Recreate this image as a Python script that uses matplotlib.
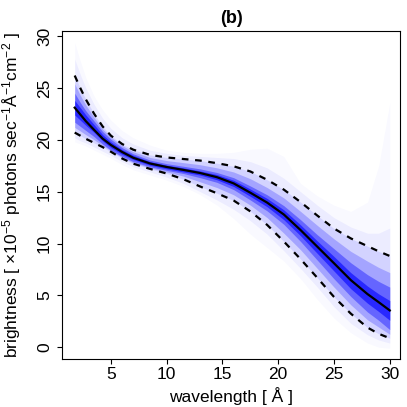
import numpy as np
import matplotlib
matplotlib.use('Agg')
import matplotlib.pyplot as plt

# wavelength grid the curves were read on
wavelength = [1.75, 2.25, 2.75, 3.5, 4.25, 5, 6, 7, 8.5, 10, 11.5, 13,
              14.5, 16, 17.5, 19, 20.5, 22, 23.5, 25, 26.5, 28, 29, 30]

# posterior median and 95% limits (dashed)
median = [23.1, 22.45, 21.8, 20.95, 20.12, 19.5, 18.83, 18.27, 17.72, 17.38,
          17.1, 16.8, 16.4, 15.8, 14.9, 13.95, 12.8, 11.3, 9.7, 8.1,
          6.48, 5.13, 4.35, 3.55]
upper95 = [26.2, 25.0, 23.9, 22.5, 21.3, 20.4, 19.6, 19.05, 18.55, 18.3,
           18.15, 18.0, 17.75, 17.45, 16.95, 16.15, 15.2, 14.0, 12.7, 11.45,
           10.5, 9.75, 9.25, 8.8]
lower95 = [20.7, 20.4, 20.1, 19.7, 19.3, 18.85, 18.2, 17.7, 17.2, 16.75,
           16.2, 15.5, 14.85, 14.15, 13.1, 11.8, 10.2, 8.5, 6.7, 4.85,
           3.25, 1.9, 1.3, 0.87]

# shaded quantile bands, widest first
band_faint_hi = [29.4, 27.6, 26.0, 24.2, 22.9, 21.9, 20.9, 20.2, 19.5, 19.0,
                 18.8, 18.7, 18.7, 18.8, 19.1, 19.2, 18.4, 15.8, 14.6, 13.7,
                 13.1, 14.0, 17.5, 23.6]
band_faint_lo = [19.8, 19.6, 19.4, 19.0, 18.6, 18.2, 17.6, 17.1, 16.6, 16.1,
                 15.5, 14.7, 13.7, 12.4, 10.9, 9.6, 8.3, 6.6, 4.6, 2.8,
                 1.4, 0.4, 0.0, -0.1]
band_outer_hi = [27.8, 26.3, 25.0, 23.4, 22.1, 21.1, 20.2, 19.6, 19.0, 18.7,
                 18.5, 18.4, 18.3, 18.2, 17.9, 17.3, 16.3, 15.0, 13.7, 12.5,
                 11.6, 11.0, 11.0, 11.5]
band_outer_lo = [20.2, 19.9, 19.7, 19.3, 18.9, 18.5, 17.9, 17.4, 16.9, 16.4,
                 15.8, 15.0, 14.2, 13.3, 12.2, 10.9, 9.3, 7.6, 5.8, 3.9,
                 2.3, 1.2, 0.7, 0.4]
band_mid_hi = [25.4, 24.3, 23.35, 22.15, 21.05, 20.25, 19.45, 18.85, 18.3, 18.0,
               17.8, 17.6, 17.3, 16.9, 16.25, 15.4, 14.4, 13.1, 11.75, 10.45,
               9.25, 8.3, 7.7, 7.2]
band_mid_lo = [21.2, 20.85, 20.5, 20.0, 19.45, 18.95, 18.3, 17.8, 17.3, 16.9,
               16.5, 15.95, 15.4, 14.7, 13.7, 12.5, 11.0, 9.4, 7.6, 5.8,
               4.1, 2.65, 1.95, 1.25]
band_inner_hi = [24.5, 23.6, 22.8, 21.8, 20.8, 20.05, 19.25, 18.65, 18.05, 17.7,
                 17.45, 17.2, 16.85, 16.35, 15.55, 14.7, 13.65, 12.3, 10.85, 9.5,
                 8.15, 7.0, 6.35, 5.8]
band_inner_lo = [21.7, 21.3, 20.9, 20.3, 19.6, 19.0, 18.4, 17.9, 17.4, 17.05,
                 16.75, 16.35, 15.9, 15.2, 14.2, 13.15, 11.85, 10.2, 8.4, 6.6,
                 4.9, 3.4, 2.6, 1.7]
band_core_hi = [23.8, 23.1, 22.4, 21.45, 20.5, 19.8, 19.05, 18.5, 17.9, 17.55,
                17.3, 17.0, 16.65, 16.1, 15.25, 14.35, 13.25, 11.8, 10.25, 8.75,
                7.2, 5.9, 5.15, 4.5]
band_core_lo = [22.4, 21.9, 21.4, 20.7, 19.9, 19.25, 18.6, 18.1, 17.55, 17.2,
                16.9, 16.6, 16.15, 15.5, 14.55, 13.55, 12.3, 10.75, 9.05, 7.35,
                5.65, 4.25, 3.45, 2.6]

xticks = [5, 10, 15, 20, 25, 30]
yticks = [0, 5, 10, 15, 20, 25, 30]

plt.rcParams['font.family'] = ['Liberation Sans', 'DejaVu Sans']
plt.rcParams['mathtext.fontset'] = 'custom'
plt.rcParams['mathtext.rm'] = 'Liberation Sans'
plt.rcParams['mathtext.it'] = 'Liberation Sans:italic'


def plot_brightness():
    fig = plt.figure(figsize=(4.07, 4.07), dpi=100)
    ax = fig.add_axes([0.152, 0.118, 0.832, 0.806])

    x = np.array(wavelength)
    # layered translucent bands give the fan-chart shading
    bands = [
        (band_faint_lo, band_faint_hi, 0.025),
        (band_outer_lo, band_outer_hi, 0.05),
        (lower95, upper95, 0.10),
        (band_mid_lo, band_mid_hi, 0.22),
        (band_inner_lo, band_inner_hi, 0.38),
        (band_core_lo, band_core_hi, 0.60),
    ]
    for lo, hi, a in bands:
        ax.fill_between(x, lo, hi, color='blue', alpha=a, linewidth=0)

    ax.plot(x, median, color='black', lw=1.6)
    ax.plot(x, upper95, color='black', lw=1.6, dashes=(3, 3))
    ax.plot(x, lower95, color='black', lw=1.6, dashes=(3, 3))

    ax.set_xlim(0.6, 30.96)
    ax.set_ylim(-1.13, 30.5)
    ax.set_xticks(xticks)
    ax.set_yticks(yticks)
    ax.tick_params(direction='out', length=3.6, width=0.8, labelsize=12.5,
                   pad=2.5)
    ax.tick_params(axis='y', labelrotation=90, pad=3.5)
    for lbl in ax.get_yticklabels():
        lbl.set_va('center')

    for sp in ax.spines.values():
        sp.set_linewidth(0.8)

    ax.set_xlabel('wavelength [ Å ]', fontsize=12.5, labelpad=3)
    ax.set_ylabel(r'brightness [ $\times$10$^{-5}$ photons sec$^{-1}$Å$^{-1}$cm$^{-2}$ ]',
                  fontsize=12.5, labelpad=10)
    ax.set_title('(b)', fontsize=13, fontweight='bold', pad=6)

    fig.savefig('out.png', dpi=100)


if __name__ == '__main__':
    plot_brightness()
